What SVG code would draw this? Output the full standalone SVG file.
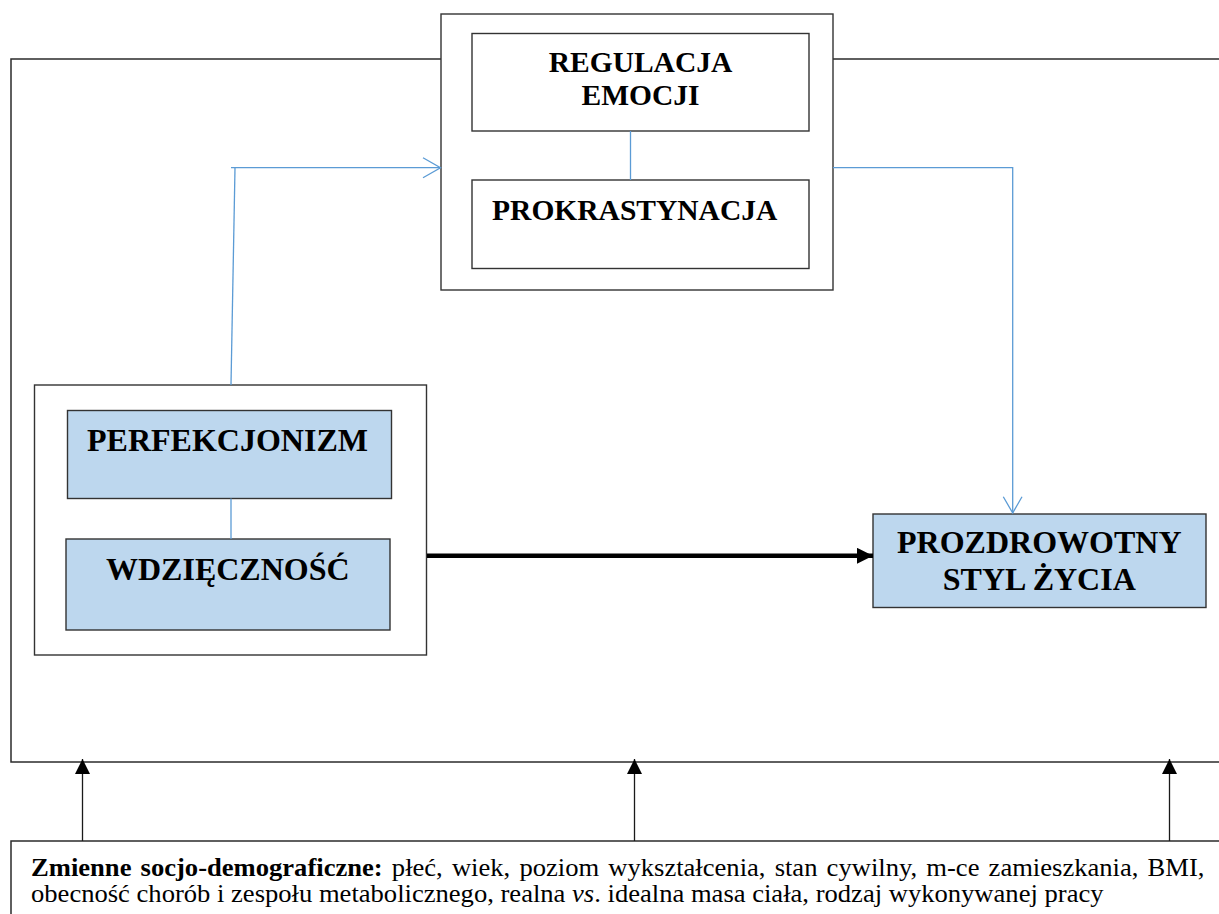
<svg xmlns="http://www.w3.org/2000/svg" width="1219" height="914" viewBox="0 0 1219 914">
  <style>
    .frame { fill: #ffffff; stroke: #2b2b2b; stroke-width: 1.5; }
    .box { fill: #ffffff; stroke: #333333; stroke-width: 1.4; }
    .blue { fill: #BDD7EE; stroke: #333333; stroke-width: 1.4; }
    .title { font-family: "Liberation Serif", "Times New Roman", serif; font-weight: bold; fill: #000000; text-anchor: middle; }
    .link { fill: none; stroke: #5B9BD5; stroke-width: 1.3; }
    .note { font-family: "Liberation Serif", "Times New Roman", serif; font-size: 25px; fill: #000000; }
  </style>
  <defs>
    <marker id="solidHead" viewBox="0 0 16 16" refX="16" refY="8" markerWidth="16" markerHeight="16" markerUnits="userSpaceOnUse" orient="auto">
      <path d="M0,0 L16,8 L0,16 Z" fill="#000000"/>
    </marker>
    <marker id="upHead" viewBox="0 0 15 15" refX="15" refY="7.5" markerWidth="15" markerHeight="15" markerUnits="userSpaceOnUse" orient="auto">
      <path d="M0,0 L15,7.5 L0,15 Z" fill="#000000"/>
    </marker>
  </defs>

  <!-- outer model frame (runs off the right edge) -->
  <rect id="model-frame" class="frame" x="11" y="59" width="1240" height="703"/>

  <!-- mediators -->
  <g id="mediators">
    <rect class="box" x="441" y="14" width="392" height="276"/>
  </g>
  <g id="regulacja">
    <rect class="box" x="472" y="33.5" width="337" height="97.5"/>
    <text class="title" font-size="29.5" x="640.5" y="71.7">REGULACJA</text>
    <text class="title" font-size="29.5" x="640.5" y="105">EMOCJI</text>
  </g>
  <g id="prokrastynacja">
    <rect class="box" x="472" y="180" width="337" height="88.5"/>
    <text class="title" font-size="29.5" x="634.7" y="220">PROKRASTYNACJA</text>
  </g>

  <!-- predictors -->
  <g id="predictors">
    <rect class="box" x="34.5" y="385" width="392" height="270"/>
  </g>
  <g id="perfekcjonizm">
    <rect class="blue" x="67.5" y="410.5" width="324" height="88"/>
    <text class="title" font-size="32" x="227.5" y="451">PERFEKCJONIZM</text>
  </g>
  <g id="wdziecznosc">
    <rect class="blue" x="66" y="539" width="324" height="91"/>
    <text class="title" font-size="32" x="227.8" y="580">WDZIĘCZNOŚĆ</text>
  </g>

  <!-- outcome -->
  <g id="styl-zycia">
    <rect class="blue" x="873" y="514" width="333" height="93.5"/>
    <text class="title" font-size="32" x="1039.3" y="553.3">PROZDROWOTNY</text>
    <text class="title" font-size="32" x="1039.3" y="590">STYL ŻYCIA</text>
  </g>

  <!-- covariates box (runs off the right and bottom edges) -->
  <g id="zmienne">
    <rect class="frame" x="11" y="841" width="1240" height="120"/>
    <g transform="translate(31,0) scale(1.064,1)">
      <text class="note" x="0" y="876.5" word-spacing="2.35"><tspan font-weight="bold">Zmienne socjo-demograficzne:</tspan> płeć, wiek, poziom wykształcenia, stan cywilny, m-ce zamieszkania, BMI,</text>
      <text class="note" x="0" y="902.5">obecność chorób i zespołu metabolicznego, realna <tspan font-style="italic">vs</tspan>. idealna masa ciała, rodzaj wykonywanej pracy</text>
    </g>
  </g>

  <!-- connectors -->
  <g id="connectors">
    <!-- links inside the grouped boxes -->
    <line class="link" x1="630.5" y1="131" x2="630.5" y2="180"/>
    <line class="link" x1="231" y1="498.5" x2="231" y2="539"/>

    <!-- predictors to mediators -->
    <line class="link" x1="231" y1="385" x2="235" y2="167.7"/>
    <line class="link" x1="231" y1="167.7" x2="440.5" y2="167.7"/>
    <polyline class="link" points="423,157.7 440.5,167.7 423,177.7"/>

    <!-- mediators to outcome -->
    <polyline class="link" points="833,167.7 1012.7,167.7 1012.7,513"/>
    <polyline class="link" points="1003.3,496.7 1012.7,513 1022,496.7"/>

    <!-- direct effect -->
    <line x1="427" y1="555.8" x2="873" y2="555.8" stroke="#000000" stroke-width="4.6" marker-end="url(#solidHead)"/>

    <!-- covariates to the model -->
    <line x1="82.5" y1="841" x2="82.5" y2="759" stroke="#1a1a1a" stroke-width="1.3" marker-end="url(#upHead)"/>
    <line x1="634.5" y1="841" x2="634.5" y2="759" stroke="#1a1a1a" stroke-width="1.3" marker-end="url(#upHead)"/>
    <line x1="1169.5" y1="841" x2="1169.5" y2="759" stroke="#1a1a1a" stroke-width="1.3" marker-end="url(#upHead)"/>
  </g>
</svg>
